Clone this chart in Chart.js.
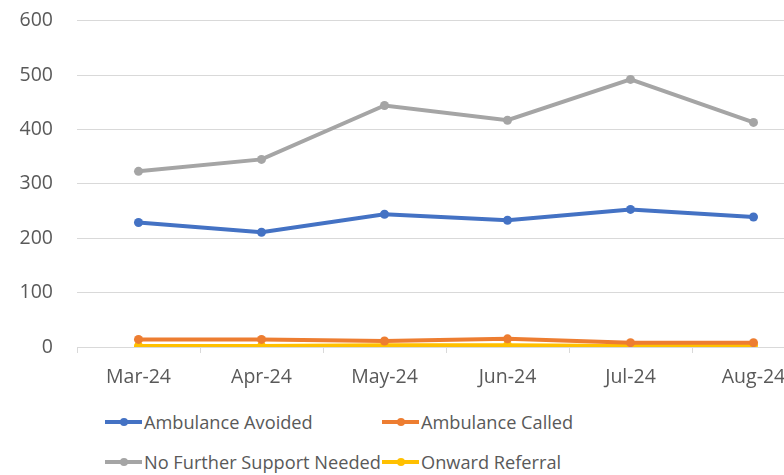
<!DOCTYPE html>
<html><head><meta charset="utf-8">
<script src="https://cdn.jsdelivr.net/npm/chart.js@4/dist/chart.umd.min.js"></script>
<style>
html,body{margin:0;padding:0;background:#fff;overflow:hidden;width:784px;height:475px;}
#wrap{position:absolute;left:0;top:-15px;width:830px;height:415px;}
#legend{position:absolute;left:105px;top:408px;display:grid;grid-template-columns:277px 300px;row-gap:12px;font-family:"Open Sans",sans-serif;font-size:18.2px;color:#595959;}
.item{display:flex;align-items:center;height:28px;white-space:nowrap;}
.mk{position:relative;flex:0 0 37px;width:37px;height:4px;margin-right:2px;}
.mk i{position:absolute;left:15px;top:-2.5px;width:8px;height:8px;border-radius:50%;}
</style></head><body>
<div id="wrap"><canvas id="c" width="830" height="415"></canvas></div>
<div id="legend"></div>
<script>
const categories = ["Mar-24","Apr-24","May-24","Jun-24","Jul-24","Aug-24"];
const ambulanceAvoided = [229, 211, 244, 233, 253, 239];
const ambulanceCalled = [14, 14, 11, 15, 8, 8];
const noFurtherSupport = [323, 345, 444, 417, 492, 413];
const onwardReferral = [2, 2, 3, 3, 2, 3];
const yTicks = [0, 100, 200, 300, 400, 500, 600];

const series = [
  {label:"Ambulance Avoided", data:ambulanceAvoided, color:"#4472C4"},
  {label:"Ambulance Called", data:ambulanceCalled, color:"#ED7D31"},
  {label:"No Further Support Needed", data:noFurtherSupport, color:"#A5A5A5"},
  {label:"Onward Referral", data:onwardReferral, color:"#FFC000"}
];
const font = {family:"'Open Sans', sans-serif", size:19.5};
new Chart(document.getElementById('c'), {
  type:'line',
  data:{labels:categories, datasets:series.map(s=>({
    label:s.label, data:s.data, borderColor:s.color, backgroundColor:s.color,
    borderWidth:4, pointRadius:4.5, pointBorderWidth:0, tension:0
  }))},
  options:{
    responsive:false, animation:false,
    layout:{padding:{top:7,left:0,right:15,bottom:0}},
    plugins:{legend:{display:false}, tooltip:{enabled:false}},
    scales:{
      x:{offset:true,
        grid:{offset:true, drawOnChartArea:false, tickLength:6, color:"#d9d9d9"},
        border:{display:true,color:"#d9d9d9"},
        ticks:{font:font, color:"#595959", padding:13, maxRotation:0},
        afterFit:(s)=>{s.height=53;}
      },
      y:{min:0,max:600,
        afterBuildTicks:(s)=>{s.ticks=yTicks.map(v=>({value:v}));},
        grid:{color:"#d9d9d9", drawTicks:false},
        border:{display:false},
        ticks:{font:font, color:"#595959", padding:24},
        afterFit:(s)=>{s.width=77;}
      }
    }
  }
});
const lg = document.getElementById('legend');
series.forEach(s=>{
  const d=document.createElement('div'); d.className='item';
  d.innerHTML='<span class="mk" style="background:'+s.color+'"><i style="background:'+s.color+'"></i></span>';
  const t=document.createElement('span'); t.textContent=s.label; d.appendChild(t);
  lg.appendChild(d);
});
</script>
</body></html>
